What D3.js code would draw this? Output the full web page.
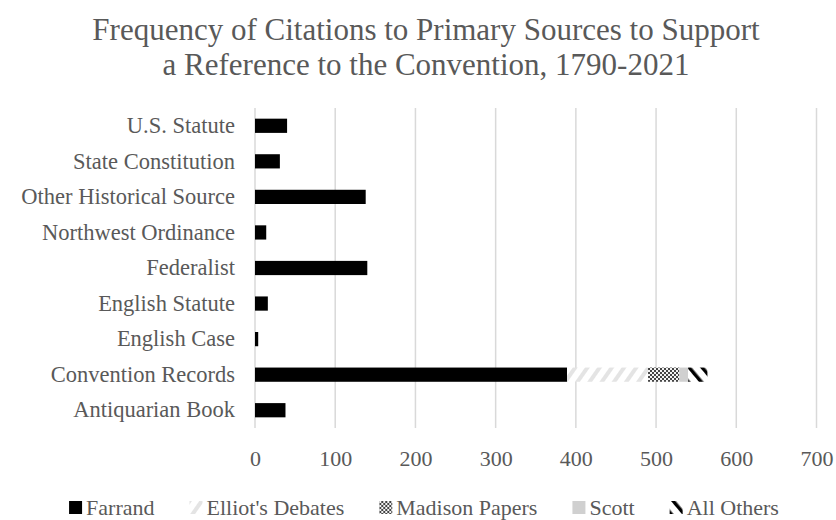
<html>
<head>
<meta charset="UTF-8">
<title>Frequency of Citations to Primary Sources</title>
<script src="https://d3js.org/d3.v7.min.js"></script>
<style>
  body { margin: 0; background: #fff; }
  text { font-family: "Liberation Serif", "Times New Roman", serif; fill: #595959; }
</style>
</head>
<body>
<div id="chart"></div>
<script>
// data
var categories = ["U.S. Statute", "State Constitution", "Other Historical Source",
  "Northwest Ordinance", "Federalist", "English Statute", "English Case",
  "Convention Records", "Antiquarian Book"];
var seriesNames = ["Farrand", "Elliot's Debates", "Madison Papers", "Scott", "All Others"];
var farrand   = [40, 31, 138, 14, 140, 16, 4, 389, 38];
var elliot    = [0, 0, 0, 0, 0, 0, 0, 101, 0];
var madison   = [0, 0, 0, 0, 0, 0, 0, 39, 0];
var scott     = [0, 0, 0, 0, 0, 0, 0, 11, 0];
var allOthers = [0, 0, 0, 0, 0, 0, 0, 24, 0];
var xTicks = [0, 100, 200, 300, 400, 500, 600, 700];

var W = 836, H = 520;
var svg = d3.select("#chart").append("svg")
  .attr("width", W).attr("height", H);

// patterns
var defs = svg.append("defs");
var pElliot = defs.append("pattern").attr("id", "p-elliot")
  .attr("patternUnits", "userSpaceOnUse").attr("width", 10).attr("height", 10)
  .attr("patternTransform", "rotate(35)");
pElliot.append("rect").attr("width", 10).attr("height", 10).attr("fill", "#fff");
pElliot.append("rect").attr("width", 4).attr("height", 10).attr("fill", "#e4e4e4");

var pMadison = defs.append("pattern").attr("id", "p-madison")
  .attr("patternUnits", "userSpaceOnUse").attr("width", 4).attr("height", 4);
pMadison.append("rect").attr("width", 4).attr("height", 4).attr("fill", "#f2f2f2");
pMadison.append("rect").attr("width", 2).attr("height", 2).attr("fill", "#444");
pMadison.append("rect").attr("x", 2).attr("y", 2).attr("width", 2).attr("height", 2).attr("fill", "#444");

var pOthers = defs.append("pattern").attr("id", "p-others")
  .attr("patternUnits", "userSpaceOnUse").attr("width", 10).attr("height", 10)
  .attr("patternTransform", "rotate(-40)");
pOthers.append("rect").attr("width", 10).attr("height", 10).attr("fill", "#fff");
pOthers.append("rect").attr("width", 3.5).attr("height", 10).attr("fill", "#000");

var fills = ["#000", "url(#p-elliot)", "url(#p-madison)", "#d0d0d0", "url(#p-others)"];

// scales
var x = d3.scaleLinear().domain([0, 700]).range([255, 816.5]);
var y = d3.scaleBand().domain(categories).range([108, 428]).paddingInner(0.6).paddingOuter(0.3);

// title
var title = svg.append("text").attr("text-anchor", "middle")
  .style("font-size", "31px");
title.append("tspan").attr("x", 426).attr("y", 40)
  .text("Frequency of Citations to Primary Sources to Support");
title.append("tspan").attr("x", 426).attr("y", 75)
  .text("a Reference to the Convention, 1790-2021");

// gridlines
svg.append("g").selectAll("line").data(xTicks).join("line")
  .attr("x1", d => x(d)).attr("x2", d => x(d))
  .attr("y1", 108).attr("y2", 428)
  .attr("stroke", "#d9d9d9").attr("stroke-width", 1.5);

// x tick labels
var xAxis = svg.append("g").attr("transform", "translate(0,428)")
  .call(d3.axisBottom(x).tickValues(xTicks).tickSize(0).tickPadding(22));
xAxis.select(".domain").remove();
xAxis.selectAll("text").attr("fill", "#595959")
  .style("font-family", "Liberation Serif, serif").style("font-size", "22px");

// category labels
var yAxis = svg.append("g").attr("transform", "translate(255,0)")
  .call(d3.axisLeft(y).tickSize(0).tickPadding(20));
yAxis.select(".domain").remove();
yAxis.selectAll("text").attr("fill", "#595959")
  .style("font-family", "Liberation Serif, serif").style("font-size", "22.5px");

// stacked bars
var rows = categories.map(function(c, i) {
  return { cat: c, "Farrand": farrand[i], "Elliot's Debates": elliot[i],
    "Madison Papers": madison[i], "Scott": scott[i], "All Others": allOthers[i] };
});
var stack = d3.stack().keys(seriesNames)(rows);

svg.append("g").selectAll("g").data(stack).join("g")
  .attr("fill", (d, i) => fills[i])
  .selectAll("rect").data(d => d.filter(v => v[1] > v[0])).join("rect")
  .attr("x", d => x(d[0]))
  .attr("width", d => x(d[1]) - x(d[0]))
  .attr("y", d => y(d.data.cat))
  .attr("height", y.bandwidth());

// legend
var legend = svg.append("g");
var items = legend.selectAll("g").data(seriesNames).join("g");
items.append("rect").attr("width", 13).attr("height", 13).attr("y", -14)
  .attr("fill", (d, i) => fills[i]);
items.append("text").attr("x", 17).attr("y", 0)
  .style("font-size", "22px").text(d => d);
var gap = 35, pos = 0, offsets = [];
items.each(function() {
  offsets.push(pos);
  pos += this.getBBox().width + gap;
});
var startX = (W - (pos - gap)) / 2 + 6;
items.attr("transform", (d, i) => "translate(" + (startX + offsets[i]) + ",515)");
</script>
</body>
</html>
